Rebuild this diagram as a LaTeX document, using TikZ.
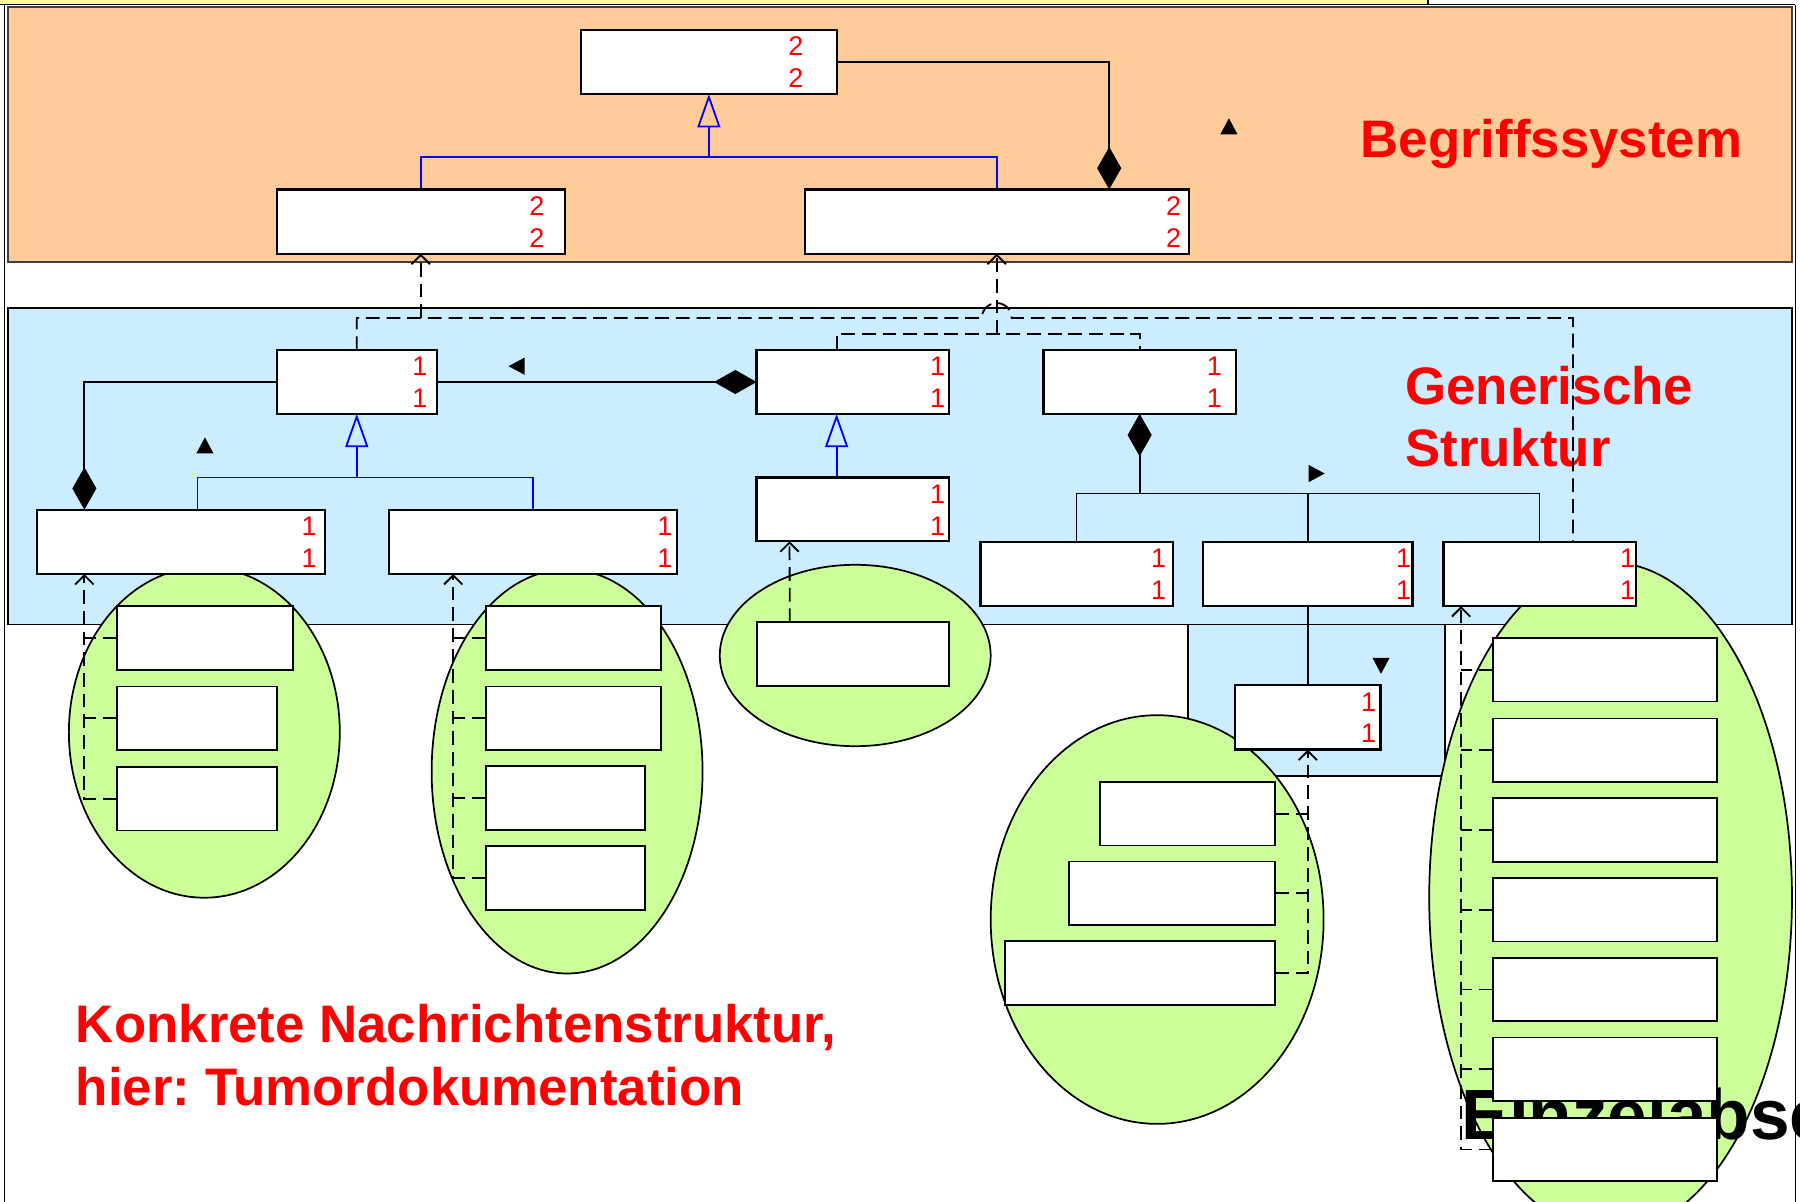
\documentclass[tikz,border=0pt]{standalone}
\usepackage{fontspec}
\setmainfont{Liberation Sans}
\usetikzlibrary{arrows.meta}
\definecolor{orangebg}{HTML}{FFCC99}
\definecolor{bluebg}{HTML}{CCECFF}
\definecolor{greenbg}{HTML}{CCFF99}
\definecolor{yellowbg}{HTML}{FFFF99}
\definecolor{umlblue}{HTML}{0000FF}
\definecolor{umlred}{HTML}{FF0000}
\pgfdeclarelayer{bg}
\pgfdeclarelayer{mid}
\pgfsetlayers{bg,mid,main}
\frenchspacing
\newcommand\clsbox[6]{\node[#1, minimum width=#5pt, minimum height=#6pt] (#2) at (#3,#4) {};}
\newcommand\multlab[3]{%
  \node[mult] (#1-m1) at ([xshift=#3pt,yshift=-14.4pt]#1.north east) {#2};%
  \node[mult] (#1-m2) at ([xshift=#3pt,yshift=-42pt]#1.north east) {#2};}
\newcommand\triup[2]{\fill (#1-7.5,#2+7) -- (#1+7.5,#2+7) -- (#1,#2-7) -- cycle;}
\newcommand\tridown[2]{\fill (#1-7.5,#2-7) -- (#1+7.5,#2-7) -- (#1,#2+7) -- cycle;}
\newcommand\trileft[2]{\fill (#1+7,#2-7.5) -- (#1+7,#2+7.5) -- (#1-7,#2) -- cycle;}
\newcommand\triright[2]{\fill (#1-7,#2-7.5) -- (#1-7,#2+7.5) -- (#1+7,#2) -- cycle;}
\begin{document}
\begin{tikzpicture}[x=1pt,y=-1pt,
  cls/.style={draw=black, fill=white, line width=2pt, inner sep=0pt, outer sep=0pt, anchor=north west},
  inst/.style={cls, line width=1.6pt},
  mult/.style={text=umlred, font=\fontsize{23.5}{23.5}\selectfont, inner sep=0pt, anchor=east},
  bigtitle/.style={text=umlred, font=\fontsize{46}{46}\selectfont\bfseries, inner sep=0pt, anchor=base west},
  genl/.style={draw=umlblue, line width=1.6pt},
  gen/.style={genl, -{Triangle[open, length=29pt, width=20pt]}},
  assoc/.style={draw=black, line width=1.6pt},
  comp/.style={assoc, -{Diamond[length=37pt, width=21pt]}},
  dline/.style={draw=black, line width=1.6pt, dash pattern=on 12pt off 6pt},
  real/.style={dline, -{Straight Barb[length=8pt, width=16pt]}},
  grp/.style={draw=black, fill=greenbg, line width=1.5pt},
]
\useasboundingbox (0,0) rectangle (1568,1047);

% ---------- class boxes ----------
\clsbox{cls}{T}{506}{26}{223}{56}
\clsbox{cls}{L1}{241}{165}{251}{56}
\clsbox{cls}{R1}{701}{165}{334.5}{56}
\clsbox{cls}{G1}{241}{305}{139.5}{55.5}
\clsbox{cls}{G2}{659}{305}{167.5}{55.5}
\clsbox{cls}{G3}{909}{305}{167.5}{55.5}
\clsbox{cls}{G4}{659}{416}{167.5}{55.5}
\clsbox{cls}{A1}{32}{444}{251}{56}
\clsbox{cls}{A2}{339}{444}{250.5}{56}
\clsbox{cls}{B1}{854}{472}{167.5}{56}
\clsbox{cls}{B2}{1048}{472}{182.5}{56}
\clsbox{cls}{B3}{1257.5}{472}{167.5}{56}
\clsbox{cls}{C1}{1076}{597}{126.5}{56}

\multlab{T}{2}{-29}
\multlab{L1}{2}{-17.5}
\multlab{R1}{2}{-6.5}
\multlab{G1}{1}{-8}
\multlab{G2}{1}{-3}
\multlab{G3}{1}{-12}
\multlab{G4}{1}{-3}
\multlab{A1}{1}{-7}
\multlab{A2}{1}{-3.5}
\multlab{B1}{1}{-5.5}
\multlab{B2}{1}{-1}
\multlab{B3}{1}{-0.5}
\multlab{C1}{1}{-3.5}

% ---------- instance boxes ----------
\clsbox{inst}{E1a}{102}{528}{153}{55.5}
\clsbox{inst}{E1b}{102}{598}{139}{55.5}
\clsbox{inst}{E1c}{102}{668}{139}{55.5}
\clsbox{inst}{E2a}{423}{528}{153}{55.5}
\clsbox{inst}{E2b}{423}{598}{153}{55.5}
\clsbox{inst}{E2c}{423}{667.5}{139}{55.5}
\clsbox{inst}{E2d}{423}{737}{139}{55.5}
\clsbox{inst}{E3a}{659.5}{542}{167}{55.5}
\clsbox{inst}{E4a}{958}{681}{153}{55.5}
\clsbox{inst}{E4b}{931}{750.5}{180}{55.5}
\clsbox{inst}{E4c}{875.5}{820}{235.5}{55.5}
\clsbox{inst}{E5a}{1300.5}{555.6}{195}{55.5}
\clsbox{inst}{E5b}{1300.5}{625.9}{195}{55.5}
\clsbox{inst}{E5c}{1300.5}{695.4}{195}{55.5}
\clsbox{inst}{E5d}{1300.5}{764.6}{195}{55.5}
\clsbox{inst}{E5e}{1300.5}{834.2}{195}{55.5}
\clsbox{inst}{E5f}{1300.5}{903.7}{195}{55.5}
\clsbox{inst}{E5g}{1300.5}{973.6}{195}{55.5}

% ---------- backgrounds ----------
\begin{pgfonlayer}{bg}
\fill[white] (0,0) rectangle (1568,1047);
\draw[fill=yellowbg, line width=1.5pt] (-10,-10) rectangle (1244,4);
\draw[line width=1.5pt] (1244,4) -- (1564,4);
\draw[line width=1.5pt] (4,4) -- (4,1060);
\draw[line width=1.5pt] (1564,4) -- (1564,1060);
\draw[fill=orangebg, draw=black!75, line width=1.5pt] (7,6) rectangle (1561,228);
\draw[fill=bluebg, line width=1.5pt] (1035,530) rectangle (1258.5,676);
\draw[fill=bluebg, line width=1.5pt] (7,268) rectangle (1561,544);
\draw[grp] (178,638) ellipse [x radius=118, y radius=144];
\draw[grp] (494,672) ellipse [x radius=118, y radius=176];
\draw[grp] (745,571) ellipse [x radius=118, y radius=79];
\draw[grp] (1008,801) ellipse [x radius=145, y radius=178];
\draw[grp] (1403,782) ellipse [x radius=158, y radius=292];
\node[bigtitle] (tBeg) at (1185,137) {Begriffssystem};
\node[bigtitle] (tGen1) at (1224,352) {Generische};
\node[bigtitle] (tGen2) at (1224,406.5) {Struktur};
\node[bigtitle] (tKon1) at (66,908) {Konkrete Nachrichtenstruktur,};
\node[bigtitle] (tKon2) at (66,963) {hier: Tumordokumentation};
\end{pgfonlayer}

% ---------- connectors ----------
\begin{pgfonlayer}{mid}
% Begriffssystem
\coordinate (gT) at (T.south |- 0,137);
\draw[genl] (L1.north) |- (gT) -| (R1.north);
\draw[gen] (gT) -- (T.south);
\draw[comp] (T.east) -| ([xshift=98pt]R1.north);
\triup{1070.5}{110}

% Generische Struktur
\coordinate (gG1) at (G1.south |- 0,416);
\draw[genl] ([xshift=14.5pt]A1.north) |- (gG1) -| (A2.north);
\draw[gen] (gG1) -- (G1.south);
\draw[gen] ([xshift=-14pt]G4.north) -- ([xshift=-14pt]G2.south);
\draw[comp] (G1.west) -| ([xshift=-84pt]A1.north);
\draw[comp] (G1.east) -- (G2.west);
\trileft{450}{319}
\triup{178.5}{388}

\coordinate (cG3) at (G3.south |- 0,430);
\draw[comp] (cG3) -- (G3.south);
\draw[assoc, line width=1.3pt] (B1.north) |- (cG3) -| (B3.north);
\draw[assoc, line width=1.3pt] (B2.north) -- (B2.north |- cG3);
\draw[assoc, line width=1.3pt] (B2.south) -- (C1.north);
\triright{1147}{412.5}
\tridown{1203}{580}

% realizations
\coordinate (hop) at (R1.south |- 0,277);
\draw[dline] (G1.north) |- ([xshift=-13pt]hop) arc[start angle=180, end angle=360, radius=13] -| ([xshift=29pt]B3.north);
\draw[real] (L1.south |- 0,277) -- (L1.south);
\coordinate (h2) at (R1.south |- 0,291);
\draw[dline] ([xshift=-14pt]G2.north) |- (h2) -| (G3.north);
\draw[real] (h2) -- (R1.south);

\draw[real] ([xshift=-55pt]E3a.north) -- ([xshift=-55pt]G4.south);

\coordinate (A1d) at ([xshift=-84pt]A1.south);
\draw[real] (E1c.west) -| (A1d);
\draw[dline] (E1a.west) -- (E1a.west -| A1d);
\draw[dline] (E1b.west) -- (E1b.west -| A1d);

\coordinate (A2d) at ([xshift=-69.5pt]A2.south);
\draw[real] (E2d.west) -| (A2d);
\draw[dline] (E2a.west) -- (E2a.west -| A2d);
\draw[dline] (E2b.west) -- (E2b.west -| A2d);
\draw[dline] (E2c.west) -- (E2c.west -| A2d);

\draw[real] (E4c.east) -| (C1.south);
\draw[dline] (E4a.east) -- (E4a.east -| C1.south);
\draw[dline] (E4b.east) -- (E4b.east -| C1.south);

\coordinate (B3d) at ([xshift=-68.5pt]B3.south);
\draw[real] (E5g.west) -| (B3d);
\draw[dline] (E5a.west) -- (E5a.west -| B3d);
\draw[dline] (E5b.west) -- (E5b.west -| B3d);
\draw[dline] (E5c.west) -- (E5c.west -| B3d);
\draw[dline] (E5d.west) -- (E5d.west -| B3d);
\draw[dline] (E5e.west) -- (E5e.west -| B3d);
\draw[dline] (E5f.west) -- (E5f.west -| B3d);

\node[font=\fontsize{62}{62}\selectfont\bfseries, inner sep=0pt, anchor=base west] (einz) at (1273,993) {Einzelabschnitte};
\end{pgfonlayer}
\end{tikzpicture}
\end{document}
